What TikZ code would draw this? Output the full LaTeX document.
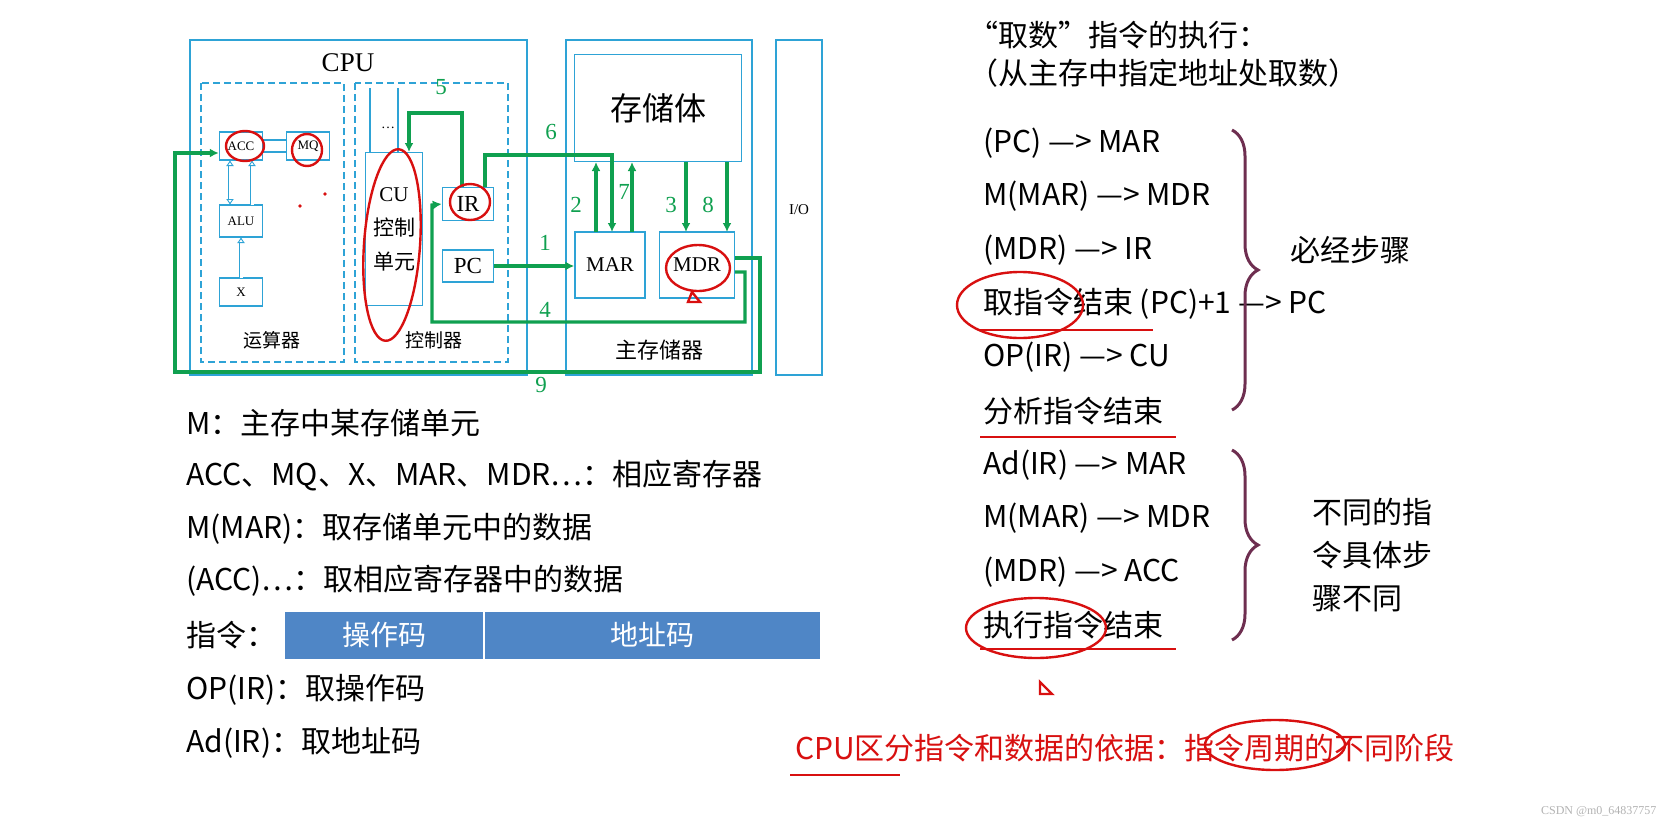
\documentclass[tikz,border=0pt]{standalone}
\usepackage{fontspec}
\setmainfont{Liberation Serif}
\setsansfont{Noto Sans}
\newfontfamily\cjk{Noto Sans CJK SC}
\usetikzlibrary{arrows.meta,positioning,decorations.pathreplacing}
\definecolor{frameblue}{HTML}{2EA3D6}
\definecolor{pathgreen}{HTML}{10A050}
\definecolor{barblue}{HTML}{4F86C6}
\definecolor{bracepurple}{HTML}{6E2E50}
\definecolor{inkred}{HTML}{D81010}
\begin{document}
\begin{tikzpicture}[
  x=1pt, y=-1pt,
  frame/.style={draw=frameblue, line width=2pt},
  reg/.style={draw=frameblue, line width=1.5pt, minimum width=43pt, minimum height=28pt, inner sep=0pt, font=\fontsize{13}{13}\selectfont},
  part/.style={draw=frameblue, line width=1.4pt, dash pattern=on 7pt off 4pt},
  garr/.style={draw=pathgreen, line width=3.2pt, -{Latex[length=9pt,width=9pt]}},
  num/.style={text=pathgreen, font=\fontsize{23}{23}\selectfont},
  hollow/.style={draw=frameblue, double=white, double distance=3pt, line width=0.9pt},
  txt/.style={anchor=west, inner sep=0pt, font=\cjk\fontsize{30}{34}\selectfont},
  ink/.style={draw=inkred, line width=2.4pt}
]
\useasboundingbox (0,0) rectangle (1662,825);
% CPU and main memory frames
\draw[frame] (190,40) rectangle (527,375);
\draw[frame] (566,40) rectangle (752,375);
\draw[frame] (776,40) rectangle (822,375);
\node[font=\fontsize{27}{27}\selectfont] (cpu) at (348,63) {CPU};
\node[font=\fontsize{15}{15}\selectfont] (io) at (799,210) {I/O};
\draw[part] (201,83) rectangle (344,362);
\draw[part] (355,83) rectangle (508,362);
\node[font=\cjk\fontsize{19}{19}\selectfont] (alulbl) at (272,340) {运算器};
\node[font=\cjk\fontsize{19}{19}\selectfont] (culbl) at (434,340) {控制器};
\node[font=\cjk\fontsize{22}{22}\selectfont] (memlbl) at (659,350) {主存储器};

% registers
\node[reg] (acc) at (241,146) {ACC};
\node[reg] (mq) at (308,146) {MQ};
\node[reg, minimum height=32pt] (alu) at (241,221) {ALU};
\node[reg] (x) at (241,292) {X};
\node[reg, minimum width=57pt, minimum height=153pt, align=center, font=\fontsize{21}{34}\selectfont] (cu) at (394,229) {CU\\{\cjk 控制}\\{\cjk 单元}};
\node[reg, minimum width=51pt, minimum height=33pt, font=\fontsize{23}{23}\selectfont] (ir) at (468,204) {IR};
\node[reg, minimum width=51pt, minimum height=32pt, font=\fontsize{23}{23}\selectfont] (pc) at (468,266) {PC};
\node[reg, minimum width=167pt, minimum height=107pt, font=\cjk\fontsize{32}{32}\selectfont] (store) at (658,108) {存储体};
\node[reg, minimum width=70pt, minimum height=66pt, font=\fontsize{21}{21}\selectfont] (mar) at (610,265) {MAR};
\node[reg, minimum width=75pt, minimum height=66pt, font=\fontsize{21}{21}\selectfont] (mdr) at (697,265) {MDR};
\node[font=\fontsize{14}{14}\selectfont] (dots) at (388,128) {\dots};
\draw[frameblue, line width=1.2pt] (370,88) -- (370,152.5) (398,88) -- (398,152.5);
\draw[frameblue, line width=1.2pt] (acc.east |- 0,140) -- (mq.west |- 0,140) (acc.east |- 0,152) -- (mq.west |- 0,152);
\draw[hollow, {Latex[open,length=6pt,width=8pt]}-{Latex[open,length=6pt,width=8pt]}] (230,160) -- (230,205);
\draw[hollow, -{Latex[open,length=6pt,width=8pt]}] (252,205) -- (252,160);
\draw[hollow, -{Latex[open,length=6pt,width=8pt]}] (241,278) -- (241,237);

% data paths
\draw[garr] (pc.east) -- (mar.west |- pc.east);
\node[num] (n1) at (545,243) {1};
\draw[garr] (596,232) -- (596,162);
\node[num] (n2) at (576,205) {2};
\draw[garr] (485,187) -- (485,155) -- (612,155) -- (612,232);
\node[num] (n6) at (551,132) {6};
\draw[garr] (632,232) -- (632,162);
\node[num] (n7) at (624,192) {7};
\draw[garr] (686,162) -- (686,232);
\node[num] (n3) at (671,205) {3};
\draw[garr] (727,162) -- (727,232);
\node[num] (n8) at (708,205) {8};
\draw[garr] (735,272) -- (745,272) -- (745,322) -- (432,322) -- (432,205) -- (ir.west);
\node[num] (n4) at (545,310) {4};
\draw[garr] (462,187) -- (462,113) -- (409,113) -- (409,152);
\node[num] (n5) at (441,87) {5};
\draw[garr] (735,258) -- (760,258) -- (760,372) -- (175,372) -- (175,153) -- (acc.west |- 0,153);
\node[num] (n9) at (541,385) {9};

% hand marks
\draw[ink] (245,146) ellipse (19pt and 15pt);
\draw[ink] (307,150) ellipse (15pt and 16pt);
\draw[ink, rotate around={-4:(392,245)}] (392,245) ellipse (28pt and 96pt);
\draw[ink] (470,202) ellipse (20pt and 18pt);
\draw[ink] (698,268) ellipse (32pt and 23pt);
\draw[ink] (692,292) -- (700,302) -- (688,302) -- cycle;
\fill[inkred] (300,206) circle (1.8pt) (325,194) circle (1.8pt);

% legend text
\node[txt] (t1) at (186,423) {M：主存中某存储单元};
\node[txt] (t2) at (186,476) {ACC、MQ、X、MAR、MDR…：相应寄存器};
\node[txt] (t3) at (186,529) {M(MAR)：取存储单元中的数据};
\node[txt] (t4) at (186,581) {(ACC)…：取相应寄存器中的数据};
\node[txt] (t5) at (186,635) {指令：};
\node[fill=barblue, minimum width=198pt, minimum height=47pt, inner sep=0pt, text=white, font=\cjk\fontsize{28}{28}\selectfont] (opc) at (384,635) {操作码};
\node[fill=barblue, minimum width=335pt, minimum height=47pt, inner sep=0pt, text=white, font=\cjk\fontsize{28}{28}\selectfont] (adc) at (652.5,635) {地址码};
\node[txt] (t6) at (186,690) {OP(IR)：取操作码};
\node[txt] (t7) at (186,743) {Ad(IR)：取地址码};

% execution steps
\node[txt] (h1) at (968,35) {“取数”指令的执行：};
\node[txt] (h2) at (968,73) {（从主存中指定地址处取数）};
\node[txt] (s1) at (983,143) {(PC) —> MAR};
\node[txt] (s2) at (983,196) {M(MAR) —> MDR};
\node[txt] (s3) at (983,250) {(MDR) —> IR};
\node[txt] (s4) at (983,304) {取指令结束 (PC)+1 —> PC};
\node[txt] (s5) at (983,357) {OP(IR) —> CU};
\node[txt] (s6) at (983,411) {分析指令结束};
\node[txt] (s7) at (983,465) {Ad(IR) —> MAR};
\node[txt] (s8) at (983,518) {M(MAR) —> MDR};
\node[txt] (s9) at (983,572) {(MDR) —> ACC};
\node[txt] (s10) at (983,625) {执行指令结束};
\draw[bracepurple, line width=3pt, decorate, decoration={brace, amplitude=26pt}] (1232,130) -- (1232,410);
\draw[bracepurple, line width=3pt, decorate, decoration={brace, amplitude=26pt}] (1232,450) -- (1232,640);
\node[txt] (must) at (1290,250) {必经步骤};
\node[txt, align=left, font=\cjk\fontsize{30}{43}\selectfont] (diff) at (1312,555) {不同的指\\令具体步\\骤不同};
\draw[ink] (1020,305) ellipse (63pt and 33pt);
\draw[ink] (1036,628) ellipse (70pt and 30pt);
\draw[ink] (1040,682) -- (1052,694) -- (1040,694) -- cycle;
\draw[draw=inkred, line width=1.6pt] (980,330) -- (1153,330) (980,437) -- (1176,437) (980,649) -- (1176,649);
\node[txt, text=inkred] (basis) at (795,748) {CPU区分指令和数据的依据：指令周期的不同阶段};
\draw[ink] (1275,745) ellipse (70pt and 25pt);
\draw[ink] (790,775) -- (900,775);
\node[anchor=east, text=gray!60, font=\fontsize{12}{12}\selectfont] (mark) at (1660,812) {CSDN @m0\_64837757};
\end{tikzpicture}
\end{document}
